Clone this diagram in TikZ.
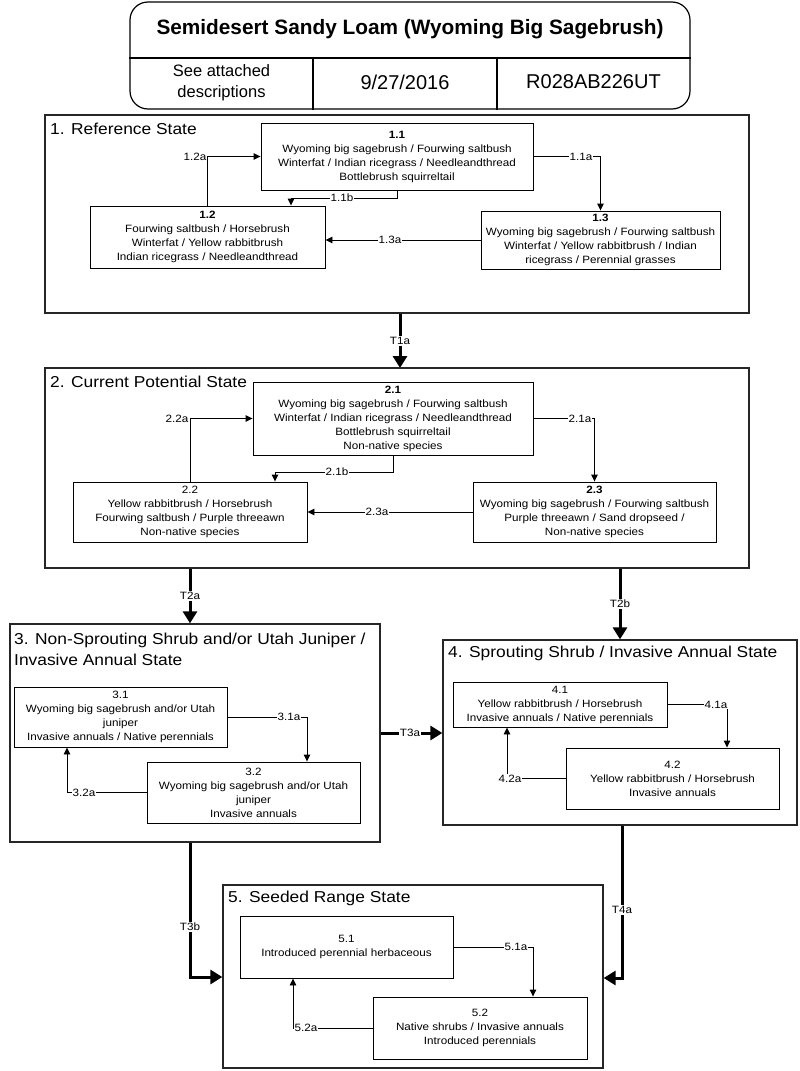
\documentclass[tikz,border=0pt]{standalone}
\usepackage{fontspec}
\setmainfont{Liberation Sans}[FakeStretch=1.1]
\newfontfamily\hdrfont{Liberation Sans}
\usetikzlibrary{arrows.meta}
\begin{document}
\begin{tikzpicture}[x=1pt,y=-1pt,
 box/.style={draw, line width=0.9pt, inner sep=0pt, align=center, font=\fontsize{10.6}{14}\selectfont},
 state/.style={draw, draw=black!85, line width=1.3pt, inner sep=0pt},
 stitle/.style={inner sep=0pt, font=\fontsize{15.8}{21}\selectfont, anchor=west},
 conn/.style={line width=0.9pt, -{Triangle[length=7pt,width=6.5pt]}},
 trans/.style={line width=3pt, -{Triangle[length=12pt,width=14pt]}},
 lbl/.style={fill=white, inner sep=1pt, font=\fontsize{10.6}{14}\selectfont},
]
\useasboundingbox (0,0) rectangle (800,1071);

% header
\node[draw, line width=1.2pt, rounded corners=18pt, minimum width=560pt, minimum height=107pt, inner sep=0pt] (hdr) at (410,55.5) {};
\draw[line width=1.2pt] (hdr.west |- 0,58) -- (hdr.east |- 0,58);
\draw[line width=1.2pt] (313,58) -- (313,0 |- hdr.south);
\draw[line width=1.2pt] (497,58) -- (497,0 |- hdr.south);
\node[font=\hdrfont\bfseries\fontsize{20.8}{24}\selectfont] (htitle) at (410,29) {Semidesert Sandy Loam (Wyoming Big Sagebrush)};
\node[align=center, font=\hdrfont\fontsize{16.5}{21}\selectfont] (hdesc) at (221.5,83) {See attached\\descriptions};
\node[font=\hdrfont\fontsize{20}{24}\selectfont] (hdate) at (405,82) {9/27/2016};
\node[font=\hdrfont\fontsize{20}{24}\selectfont] (hid) at (593.5,82) {R028AB226UT};

% state 1
\node[state, minimum width=704pt, minimum height=198pt] (s1) at (397,214) {};
\node[stitle] (t1) at (50,129) {1. Reference State};
\node[box, minimum width=272pt, minimum height=67pt] (n11) at (397,156.5) {\textbf{1.1}\\Wyoming big sagebrush / Fourwing saltbush\\Winterfat / Indian ricegrass / Needleandthread\\Bottlebrush squirreltail};
\node[box, minimum width=235pt, minimum height=62pt] (n12) at (207.5,237) {\textbf{1.2}\\Fourwing saltbush / Horsebrush\\Winterfat / Yellow rabbitbrush\\Indian ricegrass / Needleandthread};
\node[box, minimum width=239pt, minimum height=58pt] (n13) at (600.5,240) {\textbf{1.3}\\Wyoming big sagebrush / Fourwing saltbush\\Winterfat / Yellow rabbitbrush / Indian\\ricegrass / Perennial grasses};
\draw[conn] (n11.east) -| (n13.north);
\node[lbl] (l11a) at (581,156.5) {1.1a};
\draw[conn] (n11.south) -- ++(0,8) -| (291,0 |- n12.north);
\node[lbl] (l11b) at (342,198) {1.1b};
\draw[conn] (n13.west) -- (n12.east |- n13.west);
\node[lbl] (l13a) at (390,240) {1.3a};
\draw[conn] (n12.north) |- (n11.west);
\node[lbl] (l12a) at (195,156.5) {1.2a};

% T1a
\draw[trans] (400,0 |- s1.south) -- (400,368);
\node[lbl] (lt1a) at (400,341) {T1a};

% state 2
\node[state, minimum width=704pt, minimum height=200pt] (s2) at (397,468) {};
\node[stitle] (t2) at (50,382) {2. Current Potential State};
\node[box, minimum width=280pt, minimum height=73pt] (n21) at (393,418.5) {\textbf{2.1}\\Wyoming big sagebrush / Fourwing saltbush\\Winterfat / Indian ricegrass / Needleandthread\\Bottlebrush squirreltail\\Non-native species};
\node[box, minimum width=234pt, minimum height=60pt] (n22) at (190,512) {2.2\\Yellow rabbitbrush / Horsebrush\\Fourwing saltbush / Purple threeawn\\Non-native species};
\node[box, minimum width=243pt, minimum height=60pt] (n23) at (594.5,512) {\textbf{2.3}\\Wyoming big sagebrush / Fourwing saltbush\\Purple threeawn / Sand dropseed /\\Non-native species};
\draw[conn] (n21.east) -| (n23.north);
\node[lbl] (l21a) at (580,418.5) {2.1a};
\draw[conn] (n21.south) -- ++(0,17) -| (275,0 |- n22.north);
\node[lbl] (l21b) at (337,472) {2.1b};
\draw[conn] (n23.west) -- (n22.east);
\node[lbl] (l23a) at (377,512) {2.3a};
\draw[conn] (n22.north) |- (n21.west);
\node[lbl] (l22a) at (177,418.5) {2.2a};

% state 3
\node[state, minimum width=370pt, minimum height=218pt] (s3) at (195,733) {};
\node[stitle, anchor=north west, align=left] (t3) at (14,632.5) {3. Non-Sprouting Shrub and/or Utah Juniper /\\Invasive Annual State};
\node[box, minimum width=213pt, minimum height=60pt] (n31) at (120.5,717) {3.1\\Wyoming big sagebrush and/or Utah\\juniper\\Invasive annuals / Native perennials};
\node[box, minimum width=213pt, minimum height=61pt] (n32) at (253.5,792.5) {3.2\\Wyoming big sagebrush and/or Utah\\juniper\\Invasive annuals};
\draw[conn] (n31.east) -| (307,0 |- n32.north);
\node[lbl] (l31a) at (289,717) {3.1a};
\draw[conn] (n32.west) -| (67,0 |- n31.south);
\node[lbl] (l32a) at (84,792.5) {3.2a};

% state 4
\node[state, minimum width=354pt, minimum height=185pt] (s4) at (620,732.5) {};
\node[stitle] (t4) at (448,653) {4. Sprouting Shrub / Invasive Annual State};
\node[box, minimum width=214pt, minimum height=45pt] (n41) at (560,704.5) {4.1\\Yellow rabbitbrush / Horsebrush\\Invasive annuals / Native perennials};
\node[box, minimum width=213pt, minimum height=61pt] (n42) at (672.5,778.5) {4.2\\Yellow rabbitbrush / Horsebrush\\Invasive annuals};
\draw[conn] (n41.east) -| (727,0 |- n42.north);
\node[lbl] (l41a) at (716,704.5) {4.1a};
\draw[conn] (n42.west) -| (507,0 |- n41.south);
\node[lbl] (l42a) at (510,778.5) {4.2a};

% state 5
\node[state, minimum width=380pt, minimum height=183pt] (s5) at (413,976.5) {};
\node[stitle] (t5) at (228,898) {5. Seeded Range State};
\node[box, minimum width=213pt, minimum height=62pt] (n51) at (346.5,947) {5.1\\Introduced perennial herbaceous};
\node[box, minimum width=214pt, minimum height=62pt] (n52) at (480,1028) {5.2\\Native shrubs / Invasive annuals\\Introduced perennials};
\draw[conn] (n51.east) -| (533,0 |- n52.north);
\node[lbl] (l51a) at (516,947) {5.1a};
\draw[conn] (n52.west) -| (293,0 |- n51.south);
\node[lbl] (l52a) at (306,1028) {5.2a};

% transitions
\draw[trans] (190,0 |- s2.south) -- (190,0 |- s3.north);
\node[lbl] (lt2a) at (190,596) {T2a};
\draw[trans] (620,0 |- s2.south) -- (620,0 |- s4.north);
\node[lbl] (lt2b) at (620,604) {T2b};
\draw[trans] (s3.east |- 0,733) -- (s4.west |- 0,733);
\node[lbl] (lt3a) at (410,733) {T3a};
\draw[trans] (190,0 |- s3.south) |- (s5.west |- 0,977);
\node[lbl] (lt3b) at (190,927) {T3b};
\draw[trans] (622,0 |- s4.south) |- (s5.east |- 0,978);
\node[lbl] (lt4a) at (622,910) {T4a};
\end{tikzpicture}
\end{document}
